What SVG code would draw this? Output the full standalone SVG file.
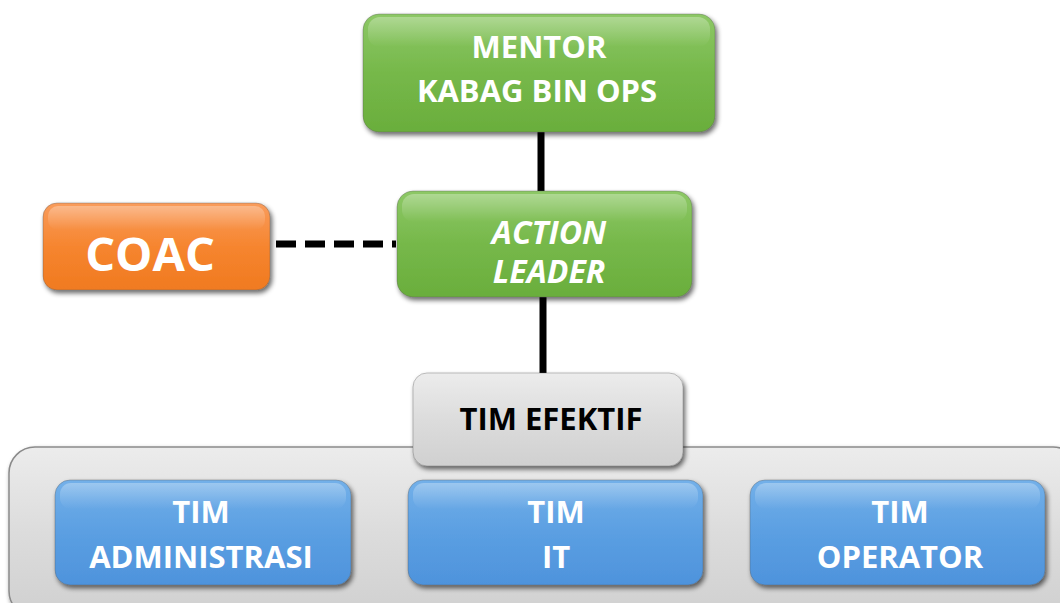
<svg xmlns="http://www.w3.org/2000/svg" width="1060" height="603" viewBox="0 0 1060 603">
<defs>
<linearGradient id="gGreen" x1="0" y1="0" x2="0" y2="1"><stop offset="0" stop-color="#8dc866"/><stop offset="0.5" stop-color="#76b84a"/><stop offset="1" stop-color="#6aae3c"/></linearGradient>
<linearGradient id="gOrange" x1="0" y1="0" x2="0" y2="1"><stop offset="0" stop-color="#f99c5c"/><stop offset="0.5" stop-color="#f6852f"/><stop offset="1" stop-color="#f07a20"/></linearGradient>
<linearGradient id="gBlue" x1="0" y1="0" x2="0" y2="1"><stop offset="0" stop-color="#73b0e9"/><stop offset="0.5" stop-color="#5b9fe2"/><stop offset="1" stop-color="#4e93dc"/></linearGradient>
<linearGradient id="gGray" x1="0" y1="0" x2="0" y2="1"><stop offset="0" stop-color="#ececec"/><stop offset="0.5" stop-color="#dcdcdc"/><stop offset="1" stop-color="#d0d0d0"/></linearGradient>
<linearGradient id="gShine" x1="0" y1="0" x2="0" y2="1"><stop offset="0" stop-color="#fff" stop-opacity="0.3"/><stop offset="1" stop-color="#fff" stop-opacity="0"/></linearGradient>
<filter id="sh" x="-10%" y="-10%" width="125%" height="130%"><feGaussianBlur in="SourceAlpha" stdDeviation="2.5"/><feOffset dx="2" dy="3" result="b"/><feComponentTransfer><feFuncA type="linear" slope="0.6"/></feComponentTransfer><feMerge><feMergeNode/><feMergeNode in="SourceGraphic"/></feMerge></filter>
</defs>
<style>
.t{font-family:"Open Sans","Liberation Sans",sans-serif;font-weight:bold;text-anchor:middle;fill:#fff}
.dk{fill:#000}
.edge{stroke:#000;stroke-width:7;fill:none}
.box{stroke:#5a5a5a;stroke-opacity:0.35;stroke-width:1}
</style>
<rect width="1060" height="603" fill="#fff"/>
<g id="container">
<rect x="9" y="447" width="1070" height="170" rx="26" fill="url(#gGray)" stroke="#8a8a8a" stroke-width="1.5" filter="url(#sh)"/>
</g>
<g id="connectors">
<line class="edge" x1="541" y1="132" x2="541" y2="192"/>
<line class="edge" x1="543" y1="297" x2="543" y2="375"/>
<line class="edge" x1="276" y1="244" x2="396" y2="244" stroke-dasharray="20 9"/>
</g>
<g id="mentor">
<rect class="box" x="363" y="14" width="352" height="118" rx="16" fill="url(#gGreen)" filter="url(#sh)"/>
<rect x="368" y="17" width="342" height="30" rx="12" fill="url(#gShine)"/>
<text class="t" x="539" y="58" font-size="31">MENTOR</text>
<text class="t" x="537" y="102" font-size="31">KABAG BIN OPS</text>
</g>
<g id="action-leader">
<rect class="box" x="397" y="191" width="295" height="106" rx="16" fill="url(#gGreen)" filter="url(#sh)"/>
<rect x="402" y="194" width="285" height="28" rx="12" fill="url(#gShine)"/>
<text class="t" x="549" y="244" font-size="32" font-style="italic">ACTION</text>
<text class="t" x="549" y="283" font-size="32" font-style="italic">LEADER</text>
</g>
<g id="coac">
<rect class="box" x="43" y="203" width="227" height="87" rx="14" fill="url(#gOrange)" filter="url(#sh)"/>
<rect x="48" y="206" width="217" height="24" rx="10" fill="url(#gShine)"/>
<text class="t" x="150" y="271" font-size="47">COAC</text>
</g>
<g id="tim-efektif">
<rect class="box" x="413" y="373" width="270" height="93" rx="14" fill="url(#gGray)" filter="url(#sh)"/>
<text class="t dk" x="551" y="430" font-size="31">TIM EFEKTIF</text>
</g>
<g id="tim-administrasi">
<rect class="box" x="55" y="480" width="296" height="105" rx="15" fill="url(#gBlue)" filter="url(#sh)"/>
<rect x="60" y="483" width="286" height="26" rx="11" fill="url(#gShine)"/>
<text class="t" x="201" y="523" font-size="31">TIM</text>
<text class="t" x="201" y="568" font-size="31">ADMINISTRASI</text>
</g>
<g id="tim-it">
<rect class="box" x="408" y="480" width="295" height="105" rx="15" fill="url(#gBlue)" filter="url(#sh)"/>
<rect x="413" y="483" width="285" height="26" rx="11" fill="url(#gShine)"/>
<text class="t" x="556" y="523" font-size="31">TIM</text>
<text class="t" x="556" y="568" font-size="31">IT</text>
</g>
<g id="tim-operator">
<rect class="box" x="750" y="480" width="295" height="105" rx="15" fill="url(#gBlue)" filter="url(#sh)"/>
<rect x="755" y="483" width="285" height="26" rx="11" fill="url(#gShine)"/>
<text class="t" x="900" y="523" font-size="31">TIM</text>
<text class="t" x="900" y="568" font-size="31">OPERATOR</text>
</g>
</svg>
